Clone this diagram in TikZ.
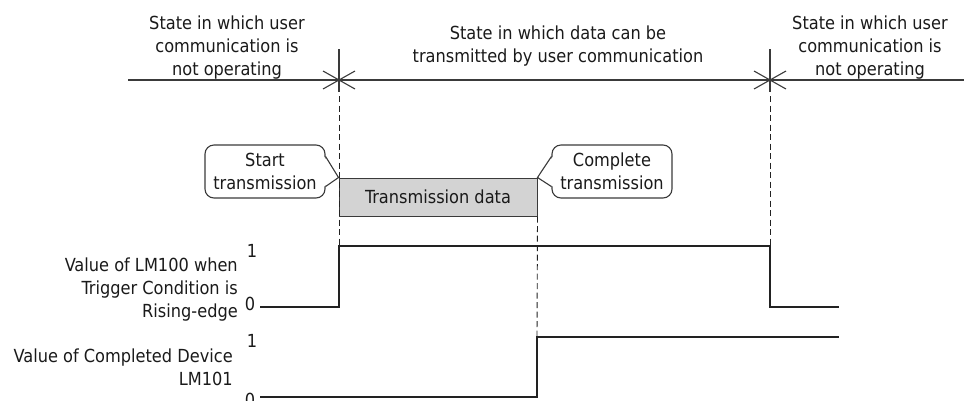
\documentclass[tikz,border=0pt]{standalone}
\usepackage{fontspec}
\setmainfont{DejaVu Sans Condensed}
\definecolor{textc}{HTML}{1A1A1A}
\definecolor{linec}{HTML}{3A3A3A}
\definecolor{sigc}{HTML}{222222}
\definecolor{boxfill}{HTML}{D3D3D3}
\begin{document}
\begin{tikzpicture}[x=1pt,y=-1pt,
  txt/.style={font=\fontsize{18}{23}\selectfont, text=textc, inner sep=0pt},
  calloutbox/.style={draw=linec, line width=1.1pt, rounded corners=9pt, inner sep=0pt,
     minimum width=120pt, minimum height=53pt, align=center, txt},
  calloutline/.style={draw=linec, line width=1.1pt, line join=miter},
  databox/.style={draw=linec, line width=1pt, fill=boxfill, inner sep=0pt,
     minimum width=198pt, minimum height=38pt, txt},
  axisline/.style={draw=linec, line width=1.1pt},
  dashline/.style={draw=sigc, line width=0.9pt, dash pattern=on 6pt off 3.5pt},
  sig/.style={draw=sigc, line width=2.4pt, line join=miter},
]
\useasboundingbox (0,0) rectangle (964,400);

% state labels (anchor base = baseline of last line)
\node[txt, align=center, anchor=base] (sL) at (227,75) {State in which user\\communication is\\not operating};
\node[txt, align=center, anchor=base] (sM) at (558,62) {State in which data can be\\transmitted by user communication};
\node[txt, align=center, anchor=base] (sR) at (870,75) {State in which user\\communication is\\not operating};

% top time line
\coordinate (hl) at (128,80);
\coordinate (hr) at (964,80);
\draw[axisline] (hl) -- (hr);

\coordinate (k1t) at (339,49);
\coordinate (k1b) at (339,92);
\coordinate (k3t) at (770,49);
\coordinate (k3b) at (770,92);
\draw[axisline] (k1t) -- (k1b);
\draw[axisline] (k3t) -- (k3b);
\draw[axisline] (323,71) -- (355,89);
\draw[axisline] (323,89) -- (355,71);
\draw[axisline] (754,71) -- (786,89);
\draw[axisline] (754,89) -- (786,71);

% transmission data box
\node[databox] (td) at (438,197) {Transmission data};
\coordinate (tipS) at (td.north west);
\coordinate (tipC) at (td.north east);

% callouts
\node[calloutbox] (cs) at (265,171.5) {Start\\transmission};
\node[calloutbox] (cc) at (612,171.5) {Complete\\transmission};

\fill[white] ([xshift=-1.6pt,yshift=-12pt]cs.north east) -- (tipS) -- ([xshift=-1.6pt,yshift=12pt]cs.south east) -- cycle;
\draw[calloutline] ([yshift=-12pt]cs.north east) -- (tipS) -- ([yshift=12pt]cs.south east);
\fill[white] ([xshift=1.6pt,yshift=-12pt]cc.north west) -- (tipC) -- ([xshift=1.6pt,yshift=12pt]cc.south west) -- cycle;
\draw[calloutline] ([yshift=-12pt]cc.north west) -- (tipC) -- ([yshift=12pt]cc.south west);

% dashed guide lines
\coordinate (d1a) at (339,96);
\coordinate (d1b) at (339,246);
\coordinate (d3a) at (770,96);
\coordinate (d3b) at (770,246);
\coordinate (d2b) at (537,337);
\draw[dashline] (d1a) -- (d1b);
\draw[dashline] (d3a) -- (d3b);
\draw[dashline] (td.south east) -- (d2b);

% signal labels
\node[txt, align=right, anchor=base east] (l1) at (238,317) {Value of LM100 when\\Trigger Condition is\\Rising-edge};
\node[txt, align=right, anchor=base east] (l2) at (233,385) {Value of Completed Device\\LM101};
\node[txt, anchor=base] (l1h) at (252,257) {1};
\node[txt, anchor=base] (l1l) at (250,310) {0};
\node[txt, anchor=base] (l2h) at (252,347) {1};
\node[txt, anchor=base] (l2l) at (250,406) {0};

% signals
\draw[sig] (260,307) -- (339,307) -- (339,246) -- (770,246) -- (770,307) -- (839,307);
\draw[sig] (260,397) -- (537,397) -- (537,337) -- (839,337);
\end{tikzpicture}
\end{document}
